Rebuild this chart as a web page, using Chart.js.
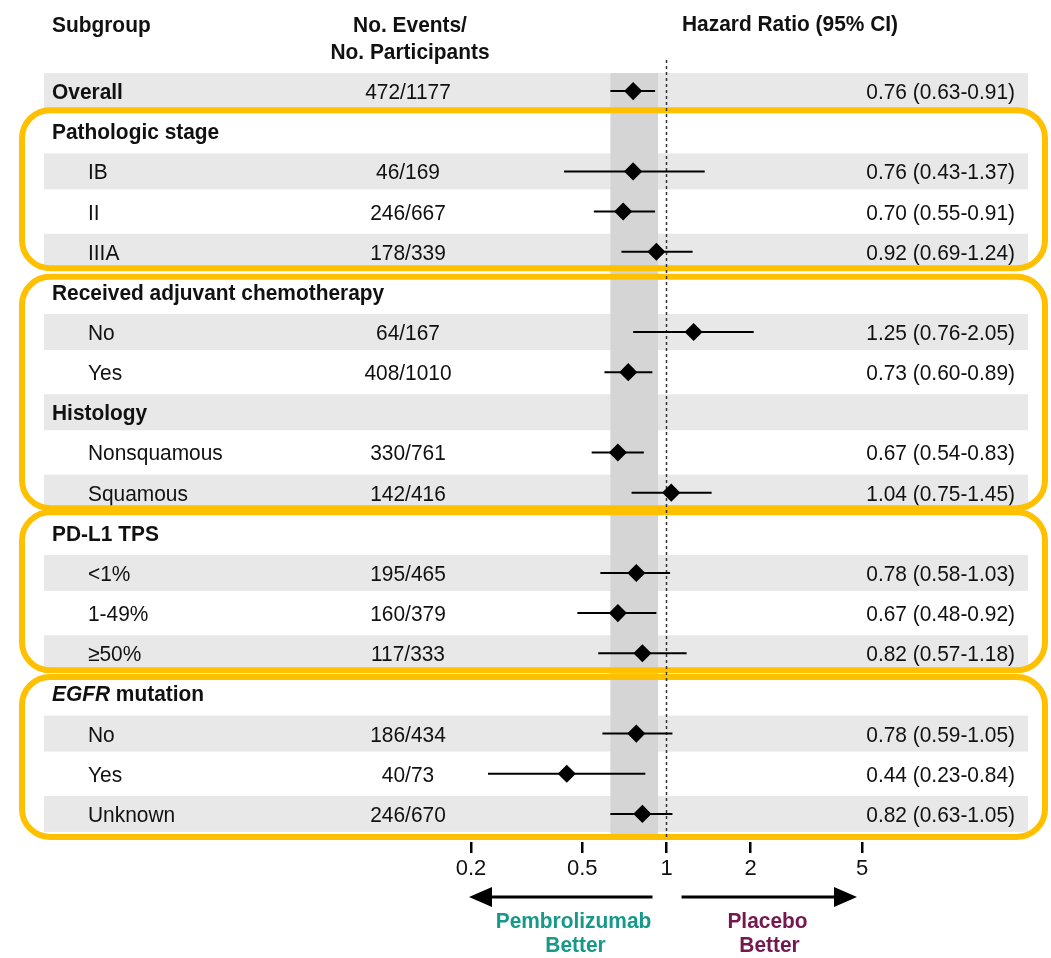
<!DOCTYPE html>
<html>
<head>
<meta charset="utf-8">
<script src="https://cdn.jsdelivr.net/npm/chart.js@4.4.1/dist/chart.umd.min.js"></script>
<style>
  html, body { margin: 0; padding: 0; background: #fff; }
  canvas { display: block; }
</style>
</head>
<body>
<canvas id="forest" width="1051" height="958"></canvas>
<script>
// ── Data ──
const subgroups = [
  'Overall', 'Pathologic stage', 'IB', 'II', 'IIIA',
  'Received adjuvant chemotherapy', 'No', 'Yes',
  'Histology', 'Nonsquamous', 'Squamous',
  'PD-L1 TPS', '<1%', '1-49%', '≥50%',
  'EGFR mutation', 'No', 'Yes', 'Unknown',
];
const levels = [0, 0, 1, 1, 1, 0, 1, 1, 0, 1, 1, 0, 1, 1, 1, 0, 1, 1, 1];
const events = [
  '472/1177', '', '46/169', '246/667', '178/339',
  '', '64/167', '408/1010',
  '', '330/761', '142/416',
  '', '195/465', '160/379', '117/333',
  '', '186/434', '40/73', '246/670',
];
const hr     = [0.76, null, 0.76, 0.70, 0.92, null, 1.25, 0.73, null, 0.67, 1.04, null, 0.78, 0.67, 0.82, null, 0.78, 0.44, 0.82];
const ciLow  = [0.63, null, 0.43, 0.55, 0.69, null, 0.76, 0.60, null, 0.54, 0.75, null, 0.58, 0.48, 0.57, null, 0.59, 0.23, 0.63];
const ciHigh = [0.91, null, 1.37, 0.91, 1.24, null, 2.05, 0.89, null, 0.83, 1.45, null, 1.03, 0.92, 1.18, null, 1.05, 0.84, 1.05];
const xTicks = [0.2, 0.5, 1, 2, 5];
// rows framed together by the orange boxes
const groups = [[1, 4], [5, 10], [11, 14], [15, 18]];

const FONT = '"Liberation Sans", Arial, sans-serif';
const INK = '#111';
const SQ = 0.95; // text is a touch narrow in the original

function txt(ctx, s, x, y, opts = {}) {
  ctx.save();
  ctx.font = opts.font || `22px ${FONT}`;
  ctx.fillStyle = opts.color || INK;
  ctx.textAlign = opts.align || 'left';
  ctx.textBaseline = 'alphabetic';
  ctx.translate(x, y);
  ctx.scale(SQ, 1);
  ctx.fillText(s, 0, 0);
  ctx.restore();
}

function roundBox(ctx, x0, y0, x1, y1, r) {
  ctx.beginPath();
  ctx.moveTo(x0 + r, y0);
  ctx.arcTo(x1, y0, x1, y1, r);
  ctx.arcTo(x1, y1, x0, y1, r);
  ctx.arcTo(x0, y1, x0, y0, r);
  ctx.arcTo(x0, y0, x1, y0, r);
  ctx.closePath();
  ctx.stroke();
}

// ── Table, bands, boxes, whiskers ──
const forestPlugin = {
  id: 'forest',
  beforeDatasetsDraw(chart) {
    const { ctx, chartArea } = chart;
    const x = chart.scales.x, y = chart.scales.y;
    ctx.save();

    // alternating row bands
    ctx.fillStyle = '#e8e8e8';
    subgroups.forEach((s, i) => {
      if (i % 2 === 0) ctx.fillRect(44, y.getPixelForValue(i) - 18, 984, 36);
    });

    // overall CI band
    const bx0 = x.getPixelForValue(ciLow[0]);
    const bx1 = x.getPixelForValue(ciHigh[0]) + 3;
    const bTop = y.getPixelForValue(0) - 18;
    ctx.fillStyle = '#d5d5d5';
    ctx.fillRect(bx0, bTop, bx1 - bx0, chartArea.bottom - 4 - bTop);

    // headers
    const bold = `bold 22px ${FONT}`;
    txt(ctx, 'Subgroup', 52, 32, { font: bold });
    txt(ctx, 'No. Events/', 410, 32, { font: bold, align: 'center' });
    txt(ctx, 'No. Participants', 410, 59, { font: bold, align: 'center' });
    txt(ctx, 'Hazard Ratio (95% CI)', 790, 31, { font: bold, align: 'center' });

    // rows
    subgroups.forEach((s, i) => {
      const py = y.getPixelForValue(i) + 8;
      if (levels[i] === 0) {
        if (s.startsWith('EGFR')) {
          const it = `italic bold 22px ${FONT}`;
          txt(ctx, 'EGFR', 52, py, { font: it });
          ctx.font = it;
          const w = ctx.measureText('EGFR').width * SQ;
          txt(ctx, s.slice(4), 52 + w, py, { font: bold });
        } else {
          txt(ctx, s, 52, py, { font: bold });
        }
      } else {
        txt(ctx, s, 88, py);
      }
      if (events[i]) txt(ctx, events[i], 408, py, { align: 'center' });
      if (hr[i] != null) {
        const label = `${hr[i].toFixed(2)} (${ciLow[i].toFixed(2)}-${ciHigh[i].toFixed(2)})`;
        txt(ctx, label, 1015, py, { align: 'right' });
      }
    });

    // orange group frames
    const pads = [[-21, 16.5], [-15, 15.5], [-20.5, 17], [-16.5, 23]];
    ctx.strokeStyle = '#ffc000';
    ctx.lineWidth = 6;
    groups.forEach(([a, b], k) => {
      const top = y.getPixelForValue(a) + pads[k][0];
      const bot = y.getPixelForValue(b) + pads[k][1];
      roundBox(ctx, 22, top, 1045, bot, 28);
    });

    // reference line at HR = 1
    const x1 = x.getPixelForValue(1);
    ctx.strokeStyle = '#333';
    ctx.lineWidth = 1.5;
    ctx.setLineDash([3, 3]);
    ctx.beginPath();
    ctx.moveTo(x1, chartArea.top - 11);
    ctx.lineTo(x1, chartArea.bottom - 2);
    ctx.stroke();
    ctx.setLineDash([]);

    // confidence intervals
    ctx.strokeStyle = '#000';
    ctx.lineWidth = 2;
    hr.forEach((v, i) => {
      if (v == null) return;
      const py = y.getPixelForValue(i);
      ctx.beginPath();
      ctx.moveTo(x.getPixelForValue(ciLow[i]), py);
      ctx.lineTo(x.getPixelForValue(ciHigh[i]), py);
      ctx.stroke();
    });
    ctx.restore();
  },
  afterDraw(chart) {
    const { ctx, chartArea } = chart;
    const x = chart.scales.x;
    const x1 = x.getPixelForValue(1);
    const ay = chartArea.bottom + 55;
    ctx.save();
    ctx.strokeStyle = '#000';
    ctx.fillStyle = '#000';
    ctx.lineWidth = 3;
    // left arrow
    const lTip = x.getPixelForValue(xTicks[0]) - 2;
    ctx.beginPath();
    ctx.moveTo(x1 - 14, ay);
    ctx.lineTo(lTip + 20, ay);
    ctx.stroke();
    ctx.beginPath();
    ctx.moveTo(lTip, ay);
    ctx.lineTo(lTip + 23, ay - 10);
    ctx.lineTo(lTip + 23, ay + 10);
    ctx.closePath();
    ctx.fill();
    // right arrow
    const rTip = x.getPixelForValue(xTicks[xTicks.length - 1]) - 5;
    ctx.beginPath();
    ctx.moveTo(x1 + 15, ay);
    ctx.lineTo(rTip - 20, ay);
    ctx.stroke();
    ctx.beginPath();
    ctx.moveTo(rTip, ay);
    ctx.lineTo(rTip - 23, ay - 10);
    ctx.lineTo(rTip - 23, ay + 10);
    ctx.closePath();
    ctx.fill();

    const bold = `bold 22px ${FONT}`;
    txt(ctx, 'Pembrolizumab', x1 - 93, ay + 31, { font: bold, align: 'center', color: '#17998a' });
    txt(ctx, 'Better', x1 - 91, ay + 55, { font: bold, align: 'center', color: '#17998a' });
    txt(ctx, 'Placebo', x1 + 101, ay + 31, { font: bold, align: 'center', color: '#75184f' });
    txt(ctx, 'Better', x1 + 103, ay + 55, { font: bold, align: 'center', color: '#75184f' });
    ctx.restore();
  },
};

const points = [];
hr.forEach((v, i) => { if (v != null) points.push({ x: v, y: i }); });

new Chart(document.getElementById('forest'), {
  type: 'scatter',
  data: {
    datasets: [{
      data: points,
      pointStyle: 'rectRot',
      pointRadius: 8,
      borderWidth: 1.5,
      backgroundColor: '#000',
      borderColor: '#000',
    }],
  },
  options: {
    responsive: false,
    devicePixelRatio: 1,
    animation: false,
    layout: { padding: { left: 471, right: 189, top: 71, bottom: 76 } },
    plugins: { legend: { display: false }, tooltip: { enabled: false } },
    scales: {
      x: {
        type: 'logarithmic',
        min: 0.2, max: 5,
        afterBuildTicks: s => { s.ticks = xTicks.map(v => ({ value: v })); },
        afterFit: s => { s.height = 40; },
        ticks: {
          callback: v => String(v),
          color: INK,
          font: { family: FONT, size: 22 },
          padding: 3,
          maxRotation: 0,
          autoSkip: false,
        },
        grid: {
          display: true, drawOnChartArea: false, drawTicks: true,
          tickLength: 11, color: '#000', lineWidth: 2.5,
          tickColor: '#000', tickWidth: 2.5,
        },
        border: { display: false },
      },
      y: {
        type: 'linear',
        reverse: true,
        min: -0.5, max: 18.7,
        display: false,
      },
    },
  },
  plugins: [forestPlugin],
});
</script>
</body>
</html>
